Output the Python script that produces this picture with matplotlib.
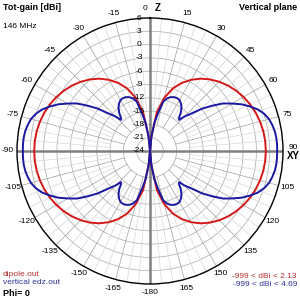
import numpy as np
import matplotlib.pyplot as plt
from matplotlib import transforms

plt.rcParams['font.family'] = ['Liberation Sans', 'DejaVu Sans']

# Elevation angle from the Z axis (deg) and gain (dBi), 0..90, pattern mirrors around 90
dipole_ang = [0, 5, 10, 15, 20, 25, 30, 35, 40, 45, 50, 55, 60, 65, 70, 75, 80, 85, 90]
dipole_db = [-30, -21.1, -15.1, -11.6, -9.0, -7.05, -5.46, -4.08, -2.92, -1.91,
             -1.04, -0.28, 0.37, 0.91, 1.35, 1.69, 1.94, 2.08, 2.13]

vert_ang = [0, 3, 6, 9, 12, 15, 18, 21, 24, 27, 30, 33, 36, 39, 41, 43, 45, 48,
            51, 54, 57, 60, 63, 66, 69, 72, 75, 78, 81, 84, 87, 90]
vert_db = [-30, -24, -20.5, -17.5, -15.3, -12.5, -11.5, -11.0, -10.7, -10.6, -10.7,
           -11.2, -11.9, -13.0, -14.0, -14.4, -13.0, -11.3, -8.8, -6.6, -4.3, -2.6,
           -0.8, 0.7, 2.1, 3.1, 3.8, 4.2, 4.5, 4.65, 4.69, 4.69]

r_ticks = [6, 3, 0, -3, -6, -9, -12, -15, -18, -21, -24]
ang_ticks = [a for a in range(-165, 181, 15) if a != 0]

R_MIN, R_MAX = -24, 6


def full_pattern(ang, db):
    ang = np.array(ang, dtype=float)
    db = np.array(db, dtype=float)
    # 0..180 then mirror to the negative side
    a = np.concatenate([ang, 180 - ang[::-1][1:]])
    d = np.concatenate([db, db[::-1][1:]])
    a = np.concatenate([-a[::-1], a[1:]])
    d = np.concatenate([d[::-1], d[1:]])
    return np.deg2rad(a), np.clip(d, R_MIN, None)


fig = plt.figure(figsize=(3, 3), dpi=100)
c = 133 / 300
ax = fig.add_axes([0.5 - c, 149 / 300 - c, 2 * c, 2 * c], projection='polar')
ax.set_theta_zero_location('N')
ax.set_theta_direction(-1)
ax.set_ylim(R_MIN, R_MAX)
ax.set_xticks([])
ax.set_yticks([])
ax.grid(False)
ax.spines['polar'].set_color('black')
ax.spines['polar'].set_linewidth(1.0)

# grid rings
circ = np.linspace(0, 2 * np.pi, 361)
for r in range(-21, 6, 3):
    ax.plot(circ, [r] * len(circ), color='#a8a8a8', lw=0.5, zorder=1)

# spokes
for a in range(0, 360, 5):
    if a % 90 == 0:
        continue
    th = np.deg2rad(a)
    if a % 15 == 0:
        ax.plot([th, th], [-18, R_MAX], color='#a0a0a0', lw=0.5, zorder=1)
    else:
        ax.plot([th, th], [-15, R_MAX], color='#d6d6d6', lw=0.5, zorder=1)

# main axes
for a in (0, 90, 180, 270):
    th = np.deg2rad(a)
    ax.plot([th, th], [R_MIN, R_MAX], color='#808080', lw=1.8, zorder=2)

th, d = full_pattern(dipole_ang, dipole_db)
ax.plot(th, d, color='#d41818', lw=1.4, zorder=3)
th, d = full_pattern(vert_ang, vert_db)
ax.plot(th, d, color='#1818a0', lw=1.4, zorder=4)

# radial labels
off = transforms.offset_copy(ax.transData, fig=fig, x=-11, y=0, units='dots')
for r in r_ticks:
    ax.text(0, r, str(r), transform=off, fontsize=6, ha='center', va='center',
            zorder=5)

# angle labels
for a in ang_ticks:
    th = np.deg2rad(a)
    if a == 90:
        ax.text(th, 8.3, '90', fontsize=6, ha='center', va='bottom')
        ax.text(th, 8.3, 'XY', fontsize=7, fontweight='bold', ha='center', va='top')
    elif a == 180:
        ax.text(th, 8.0, '-180', fontsize=6, ha='center', va='center')
    else:
        ax.text(th, 8.0, str(a), fontsize=6, ha='center', va='center')
fig.text(145 / 300, 1 - 8 / 300, '0', fontsize=6, ha='center', va='center')
fig.text(158 / 300, 1 - 8 / 300, 'Z', fontsize=7, fontweight='bold', ha='center', va='center')

# header / footer texts
fig.text(3 / 300, 1 - 8 / 300, 'Tot-gain [dBi]', fontsize=6.5, fontweight='bold', va='center')
fig.text(3 / 300, 1 - 27 / 300, '146 MHz', fontsize=6, va='center')
fig.text(297 / 300, 1 - 8 / 300, 'Vertical plane', fontsize=6.5, fontweight='bold',
         ha='right', va='center')
fig.text(3 / 300, 1 - 274 / 300, 'dipole.out', fontsize=6, color='#b83030', va='center')
fig.text(3 / 300, 1 - 283 / 300, 'vertical edz.out', fontsize=6, color='#30309a', va='center')
fig.text(3 / 300, 1 - 293 / 300, 'Phi= 0', fontsize=6.5, fontweight='bold', va='center')
fig.text(297 / 300, 1 - 276 / 300, '-999 < dBi < 2.13', fontsize=6, color='#b83030',
         ha='right', va='center')
fig.text(297 / 300, 1 - 285 / 300, '-999 < dBi < 4.69', fontsize=6, color='#30309a',
         ha='right', va='center')

fig.savefig('out.png', dpi=100)
